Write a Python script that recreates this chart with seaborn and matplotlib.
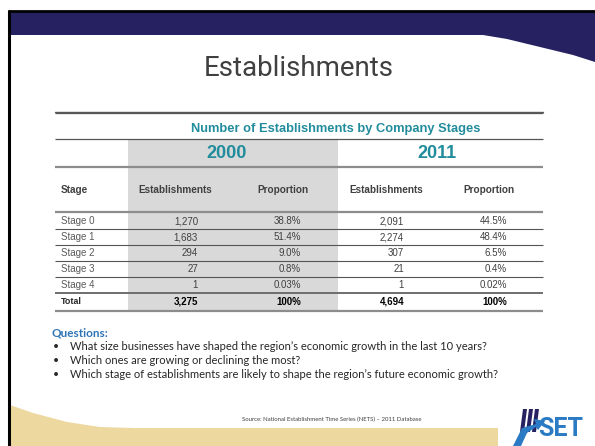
import numpy as np
import matplotlib.pyplot as plt
import seaborn as sns
from matplotlib.patches import Polygon, Rectangle

# table values
stages = ['Stage 0', 'Stage 1', 'Stage 2', 'Stage 3', 'Stage 4']
est_2000 = [1270, 1683, 294, 27, 1]
prop_2000 = ['38.8%', '51.4%', '9.0%', '0.8%', '0.03%']
est_2011 = [2091, 2274, 307, 21, 1]
prop_2011 = ['44.5%', '48.4%', '6.5%', '0.4%', '0.02%']
totals = [3275, 4694]
total_prop = '100%'
years = ['2000', '2011']
col_headers = ['Establishments', 'Proportion', 'Establishments', 'Proportion']

questions = [
    'What size businesses have shaped the region\u2019s economic growth in the last 10 years?',
    'Which ones are growing or declining the most?',
    'Which stage of establishments are likely to shape the region\u2019s future economic growth?',
]

TEAL = '#218C9C'
NAVY = '#262262'
GREY_TXT = '#595959'
SHADE = '#D9D9D9'
LIB = ['Liberation Sans', 'DejaVu Sans']

sns.set_theme(style='white')
plt.rcParams['font.family'] = LIB

fig = plt.figure(figsize=(5.95, 4.46), dpi=100)
ax = fig.add_axes([0, 0, 1, 1])
ax.set_xlim(0, 595)
ax.set_ylim(446, 0)
ax.axis('off')

# slide frame: navy header band with a curved edge, black border
curve_x = np.array([483, 507, 540, 573, 595])
curve_y = np.array([35, 39, 47, 55, 62])
band = [(8, 12), (595, 12)] + list(zip(curve_x[::-1], curve_y[::-1])) + [(8, 35)]
ax.add_patch(Polygon(band, closed=True, facecolor=NAVY, edgecolor='none'))
ax.plot([8, 595], [11, 11], color='black', lw=2, solid_capstyle='butt')
ax.plot([9, 9], [10, 446], color='black', lw=2.2, solid_capstyle='butt')

# beige footer wave
wx = np.array([10, 33, 67, 100, 133, 498])
wy = np.array([405, 413, 422, 427, 428, 428])
wave = list(zip(wx, wy)) + [(498, 446), (10, 446)]
ax.add_patch(Polygon(wave, closed=True, facecolor='#EDD8A0', edgecolor='none'))

# title
ax.text(299, 76, 'Establishments', ha='center', va='baseline', fontsize=20,
        color='#404040', family=['Roboto', 'DejaVu Sans'])
ax.plot([55, 543], [112, 112], color='#5a5a5a', lw=1)

# table
left, right = 55, 543
shade_x0, shade_x1 = 128, 338
row_y0, row_h = 221, 16
total_y = 302
ax.add_patch(Rectangle((shade_x0, 139), shade_x1 - shade_x0, 311 - 139,
                       facecolor=SHADE, edgecolor='none', zorder=0))

ax.text(336, 129, 'Number of Establishments by Company Stages', ha='center', va='center',
        fontsize=9.3, fontweight='bold', color=TEAL, family=LIB)
for yr, cx in zip(years, [227, 437]):
    ax.text(cx, 154, yr, ha='center', va='center', fontsize=13, fontweight='bold',
            color=TEAL, family=LIB)

ax.text(61, 190, 'Stage', ha='left', va='center', fontsize=7.2, fontweight='bold',
        color='#404040', family=LIB)
for h, cx in zip(col_headers, [175, 283, 386, 489]):
    ax.text(cx, 190, h, ha='center', va='center', fontsize=7.2, fontweight='bold',
            color='#404040', family=LIB)

# horizontal rules
for y, lw, c in [(113, 0.9, '#555555'), (139, 0.9, '#555555'), (167, 1.6, '#8c8c8c'),
                 (212, 1.6, '#8c8c8c'), (293, 1.4, '#6e6e6e'), (311, 1.6, '#8c8c8c')]:
    ax.plot([left, right], [y, y], color=c, lw=lw, solid_capstyle='butt')
for i in range(1, len(stages)):
    y = row_y0 + row_h * i - 8
    ax.plot([left, right], [y, y], color='#555555', lw=0.8, solid_capstyle='butt')

right_edges = [198, 301, 404, 507]
for i, st in enumerate(stages):
    y = row_y0 + row_h * i
    ax.text(61, y, st, ha='left', va='center', fontsize=7, color=GREY_TXT)
    vals = [f'{est_2000[i]:,}', prop_2000[i], f'{est_2011[i]:,}', prop_2011[i]]
    for v, rx in zip(vals, right_edges):
        ax.text(rx, y, v, ha='right', va='center', fontsize=7, color='#404040')

ax.text(61, total_y, 'Total', ha='left', va='center', fontsize=6.4, fontweight='bold',
        color='#262626', family=LIB)
tot_vals = [f'{totals[0]:,}', total_prop, f'{totals[1]:,}', total_prop]
for v, rx in zip(tot_vals, right_edges):
    ax.text(rx, total_y, v, ha='right', va='center', fontsize=7, fontweight='bold',
            color='black')

# questions block
LATO = ['Lato', 'DejaVu Sans']
ax.text(52, 333, 'Questions:', ha='left', va='center', fontsize=8.5, fontweight='bold',
        color='#2E75B6', family=LATO)
for i, q in enumerate(questions):
    y = 347 + 13.5 * i
    ax.text(53, y, '\u2022', ha='left', va='center', fontsize=7.5, color='#262626', family=LATO)
    ax.text(70, y, q, ha='left', va='center', fontsize=8, color='#262626', family=LATO)

ax.text(332, 419, 'Source: National Establishment Time Series (NETS) \u2013 2011 Database',
        ha='center', va='center', fontsize=4.3, color='#404040', family=LATO)

# SET logo
for bx in [520, 526, 532]:
    ax.add_patch(Polygon([(bx, 432), (bx + 3, 409), (bx + 7, 409), (bx + 4, 432)],
                         closed=True, facecolor=NAVY, edgecolor='none'))
ax.add_patch(Polygon([(513, 446), (522, 428), (536, 424), (534, 419), (545, 421),
                      (538, 430), (536, 427), (527, 433), (521, 446)],
                     closed=True, facecolor='#2B7BC4', edgecolor='none'))
ax.text(561, 436, 'SET', ha='center', va='baseline', fontsize=18, fontweight='bold',
        color='#2B7BC4', family=['Roboto', 'DejaVu Sans'])

fig.savefig('out.png', dpi=100, facecolor='white')
